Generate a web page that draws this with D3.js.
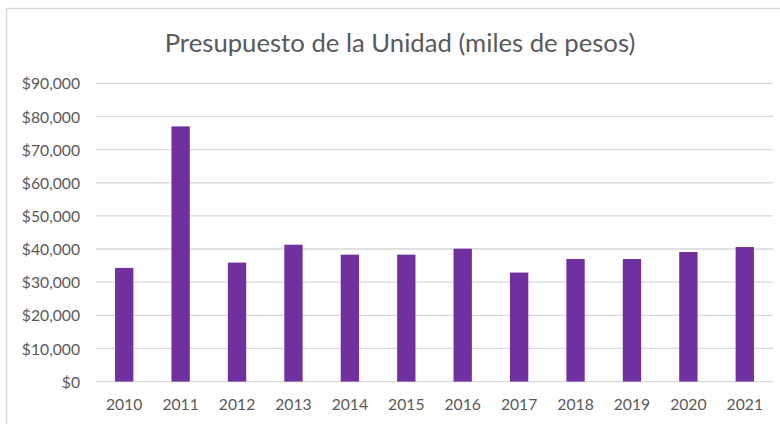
<!DOCTYPE html>
<html>
<head>
<meta charset="utf-8">
<script src="https://cdn.jsdelivr.net/npm/d3@7"></script>
<style>
  body { margin: 0; background: #fff; }
  svg { display: block; font-family: Lato, "Open Sans", sans-serif; }
  .axis { font-family: Lato, "Open Sans", sans-serif; }
  .axis text { fill: #595959; font-size: 15.7px; }
  .axis path, .axis line { stroke: none; }
  .grid line { stroke: #d9d9d9; stroke-width: 1.3; }
</style>
</head>
<body>
<svg id="svg1" width="780" height="424"></svg>
<script>
var years = ["2010", "2011", "2012", "2013", "2014", "2015", "2016", "2017", "2018", "2019", "2020", "2021"];
var budget = [34300, 77000, 35900, 41300, 38300, 38300, 40100, 32900, 37000, 37000, 39100, 40600];
var yTicks = [0, 10000, 20000, 30000, 40000, 50000, 60000, 70000, 80000, 90000];
var title = "Presupuesto de la Unidad (miles de pesos)";

var params = {
  "svg": { "width": 780, "height": 424 },
  "plot": { "x": 96, "y": 83.3, "width": 677, "height": 298.3 }
};

var svg = d3.select("#svg1");

// chart area border
svg.append("rect")
  .attr("x", 6.5).attr("y", 8.5)
  .attr("width", 800).attr("height", 450)
  .attr("fill", "#fff")
  .attr("stroke", "#d9d9d9")
  .attr("stroke-width", 1.5);

svg.append("text")
  .attr("x", 400)
  .attr("y", 52)
  .attr("text-anchor", "middle")
  .attr("fill", "#595959")
  .style("font-size", "25.7px")
  .text(title);

var scale = {
  "x": d3.scaleBand().domain(years).range([0, params.plot.width]).paddingInner(0.675).paddingOuter(0.3375),
  "y": d3.scaleLinear().domain([0, 90000]).range([params.plot.height, 0])
};

var plot = svg.append("g")
  .attr("transform", "translate(" + params.plot.x + "," + params.plot.y + ")");

// gridlines
plot.append("g")
  .attr("class", "grid")
  .selectAll("line")
  .data(yTicks)
  .enter()
  .append("line")
  .attr("x1", 0)
  .attr("x2", params.plot.width)
  .attr("y1", function(d) { return scale.y(d); })
  .attr("y2", function(d) { return scale.y(d); });

// bars
plot.selectAll("rect.bar")
  .data(budget)
  .enter()
  .append("rect")
  .attr("class", "bar")
  .attr("x", function(d, i) { return scale.x(years[i]); })
  .attr("y", function(d) { return scale.y(d); })
  .attr("width", scale.x.bandwidth())
  .attr("height", function(d) { return scale.y(0) - scale.y(d); })
  .attr("fill", "#7030a0");

var fmt = d3.format("$,");

plot.append("g")
  .attr("class", "axis")
  .call(d3.axisLeft(scale.y).tickValues(yTicks).tickFormat(fmt).tickSize(0).tickPadding(16))
  .selectAll("text").attr("dy", "0.36em");

plot.append("g")
  .attr("class", "axis")
  .attr("transform", "translate(0," + params.plot.height + ")")
  .call(d3.axisBottom(scale.x).tickSize(0).tickPadding(17));
</script>
</body>
</html>
